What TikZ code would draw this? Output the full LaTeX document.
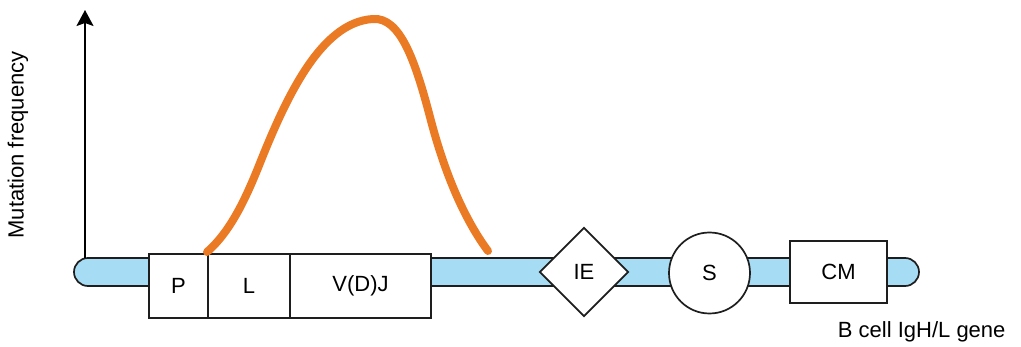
\documentclass[tikz,border=0pt]{standalone}
\usepackage{fontspec}
\setmainfont{Liberation Sans}
\usetikzlibrary{arrows.meta,shapes.geometric}
\definecolor{genebar}{RGB}{166,220,244}
\definecolor{curveorange}{RGB}{234,122,36}
\definecolor{outline}{RGB}{30,30,30}
\tikzset{
  label text/.style={font=\fontsize{22}{26}\selectfont, text=black},
  element/.style={draw=outline, line width=1.7pt, fill=white, inner sep=0pt, label text},
  segbox/.style={element, rectangle, minimum height=64pt},
}
\begin{document}
\begin{tikzpicture}[x=1pt,y=-1pt]
\useasboundingbox (0,0) rectangle (1021,347);

% gene backbone
\node[draw=outline, line width=1.7pt, fill=genebar, rectangle, rounded corners=14pt,
      minimum width=845pt, minimum height=28pt, inner sep=0pt] (bar) at (496.5,272) {};

% promoter / leader / variable region
\node[segbox, minimum width=59pt] (P) at (178.5,286) {P};
\node[segbox, minimum width=82pt] (L) at (249,286) {L};
\node[segbox, minimum width=141pt] (VDJ) at (360.5,286) {V(D)J};

% intronic enhancer, switch region, constant region
\node[element, diamond, minimum width=89pt, minimum height=89pt] (IE) at (584,272) {IE};
\node[element, circle, minimum size=81pt] (S) at (709.5,273) {S};
\node[segbox, minimum width=97pt, minimum height=62pt] (CM) at (838.5,272) {CM};

% y axis
\coordinate (origin) at (85,258);
\coordinate (ytop) at (85,10);
\draw[line width=1.8pt, -{Stealth[length=16pt,width=17pt,inset=3pt]}] (origin) -- (ytop);

\node[label text, rotate=90] (ylabel) at (18,145) {Mutation frequency};
\node[label text, anchor=east] (xlabel) at (1009,332) {B cell IgH/L gene};

% mutation frequency profile
\coordinate (c0) at (207,252);
\coordinate (c1) at (258,168);
\coordinate (peak) at (373,19);
\coordinate (c3) at (430,117);
\coordinate (c4) at (488,251);
\draw[curveorange, line width=8pt, line cap=round]
  (c0) .. controls (230,232) and (245,200) .. (c1)
       .. controls (285,100) and (320,22) .. (peak)
       .. controls (400,17) and (415,60) .. (c3)
       .. controls (445,175) and (465,220) .. (c4);
\end{tikzpicture}
\end{document}
